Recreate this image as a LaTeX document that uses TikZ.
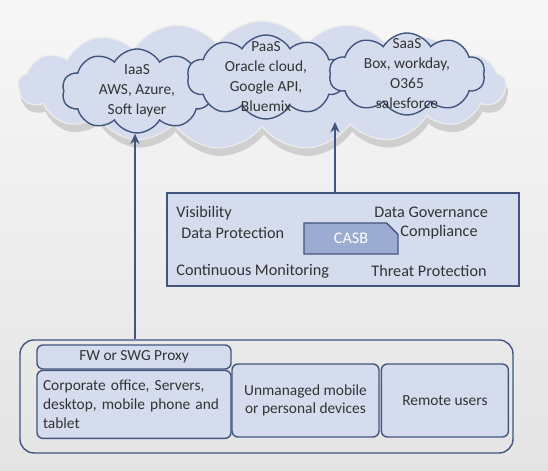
\documentclass[tikz,border=0pt]{standalone}
\usepackage{fontspec}
\setmainfont{Carlito}
\usepackage{xcolor}
\usepackage{tikz}
\usetikzlibrary{arrows.meta,positioning,shapes.symbols,shapes.misc,shadows}
\definecolor{ink}{HTML}{42557E}
\definecolor{paleblue}{HTML}{D5DCEE}
\definecolor{midblue}{HTML}{9CABD2}
\definecolor{bgtop}{HTML}{F7F7F7}
\definecolor{bgbot}{HTML}{E4E4E4}
\tikzset{
  sky/.style    ={cloud,cloud puffs=17,cloud puff arc=110,aspect=3.8,fill=paleblue,
                  draw=white!85!gray,line width=0.6pt,inner sep=0pt,
                  drop shadow={shadow xshift=1pt,shadow yshift=-4pt,fill=black!35,opacity=.45}},
  puff/.style   ={cloud,cloud puffs=10,cloud puff arc=120,aspect=1.7,fill=paleblue,
                  draw=ink,line width=0.7pt,inner sep=0pt},
  puffnote/.style={align=center,font=\fontsize{7.7}{10}\selectfont},
  box/.style    ={rounded corners=3pt,draw=ink,line width=0.7pt,fill=paleblue,
                  inner sep=2pt,align=center,font=\fontsize{7.7}{9.4}\selectfont},
  zone/.style   ={rounded corners=7pt,draw=ink,line width=0.7pt,inner sep=0pt},
  panel/.style  ={draw=ink,line width=0.7pt,fill=paleblue,inner sep=0pt},
  feature/.style={anchor=west,inner sep=0pt},
  flow/.style   ={-{Stealth[length=1.8mm,width=1.6mm]},line width=0.8pt,draw=ink}
}

\begin{document}
\begin{tikzpicture}[x=0.5pt,y=0.5pt,every node/.style={font=\fontsize{8.1}{9.8}\selectfont,text=black!80}]
    % background
    \shade[top color=bgtop,bottom color=bgbot] (0,0) rectangle (548,471);
    \useasboundingbox (0,0) rectangle (548,471);
    % cloud services
    \node[sky,minimum width=244pt,minimum height=64pt] (sky) at (262,386) {};
    \node[puff,minimum width=75pt,minimum height=42pt,
          label={[puffnote]center:IaaS\\AWS, Azure,\\Soft layer}] (iaas) at (137,380) {};
    \node[puff,minimum width=79pt,minimum height=42pt,
          label={[puffnote]center:PaaS\\Oracle cloud,\\Google API,\\Bluemix}] (paas) at (266,394) {};
    \node[puff,minimum width=78pt,minimum height=41pt,
          label={[puffnote]center:SaaS\\Box, workday,\\O365\\salesforce}] (saas) at (407,397) {};
    \coordinate (skyin) at (335,349);
    % CASB panel
    \node[panel,minimum width=176pt,minimum height=46.5pt] (casb) at (343,231.5) {};
    \node[panel,chamfered rectangle,chamfered rectangle corners=north east,
          chamfered rectangle xsep=3pt,chamfered rectangle ysep=3pt,fill=midblue,
          minimum width=47pt,minimum height=15.5pt,text=white] (core) at (351,232.5) {CASB};
    \node[feature] (vis)  at (176,258) {Visibility};
    \node[feature] (dp)   at (181,238) {Data Protection};
    \node[feature] (dg)   at (374,259) {Data Governance};
    \node[feature] (comp) at (400,239) {Compliance};
    \node[feature] (mon)  at (176,200) {Continuous Monitoring};
    \node[feature] (tp)   at (371,200) {Threat Protection};
    % user sites
    \node[zone,minimum width=246.5pt,minimum height=56.5pt] (site) at (266.5,74.5) {};
    \node[box,minimum width=97pt,minimum height=12pt] (fw) at (134,114) {FW or SWG Proxy};
    \node[box,below=0pt of fw,minimum width=97pt,minimum height=34pt,inner xsep=3pt,
          text width=91pt,align=left] (corp)
         {Corporate office, Servers,\\desktop, mobile phone and\\tablet};
    \node[box,minimum width=73.5pt,minimum height=36.5pt] (byod) at (305.5,70.5) {Unmanaged mobile\\or personal devices};
    \node[box,right=0.5pt of byod,minimum width=63.5pt,minimum height=36.5pt] (remote) {Remote users};
    \draw[flow] (site.north -| 135,0) -- (iaas.south -| 135,0);
    \draw[flow] (casb.north -| skyin) -- (skyin);
\end{tikzpicture}
\end{document}
